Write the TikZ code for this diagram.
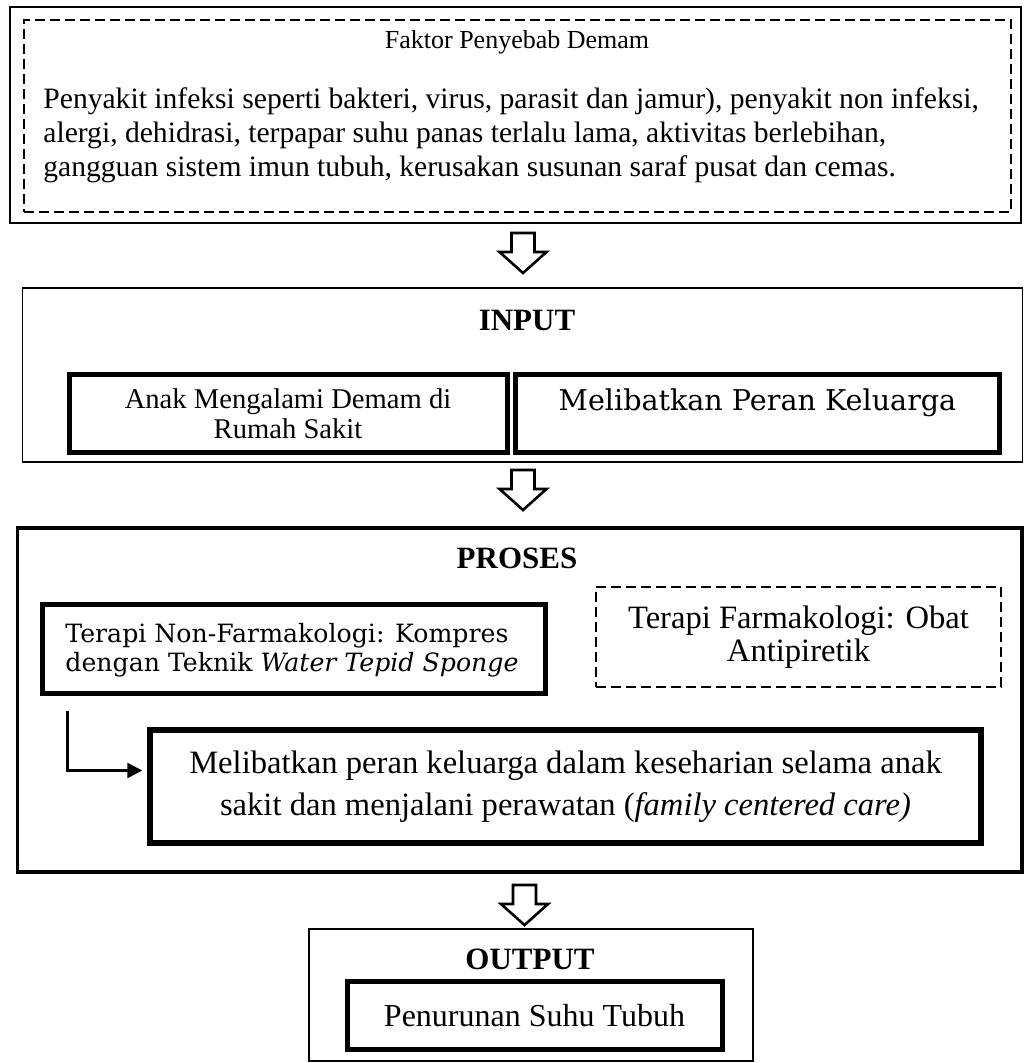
\documentclass[tikz,border=0pt]{standalone}
\usepackage{fontspec}
\setmainfont{Liberation Serif}
\newfontfamily\lebar{DejaVu Serif}
\usetikzlibrary{positioning,arrows.meta}

\begin{document}
\begin{tikzpicture}[
    x=0.5pt, y=-0.5pt,
    kotaktipis/.style={draw, line width=0.6pt, inner sep=0pt},
    kotakputus/.style={draw, line width=0.6pt, dash pattern=on 5pt off 2.5pt, inner sep=0pt},
    kotaktebal/.style={draw, line width=2.5pt, inner sep=0pt},
    judul/.style={inner sep=0pt, font=\bfseries\fontsize{15.5}{18}\selectfont},
    panahblok/.pic={\draw[line width=1.3pt] (-11.5,0) -- (-11.5,19) -- (-23.5,19) -- (0,40) -- (23.5,19) -- (11.5,19) -- (11.5,0) -- cycle;},
    panahsiku/.style={-{Triangle[length=7.5pt,width=7.5pt]}, line width=1.2pt}
    ]
        \useasboundingbox (0,0) rectangle (1024,1063);

        %Faktor penyebab
        \node[kotaktipis, minimum width=505.5pt, minimum height=108pt]
            (faktor) at (515.5,115) {};
        \node[kotakputus, minimum width=493.5pt, minimum height=96pt]
            (faktordalam) at (517.5,116) {};
        \node[inner sep=0pt, font=\fontsize{13}{15}\selectfont]
            (judulfaktor) at (517,42) {Faktor Penyebab Demam};
        \node[inner sep=0pt, anchor=west, align=left, font=\fontsize{14.8}{17}\selectfont]
            (isifaktor) at (43,135) {Penyakit infeksi seperti bakteri, virus, parasit dan jamur), penyakit non infeksi,\\
            alergi, dehidrasi, terpapar suhu panas terlalu lama, aktivitas berlebihan,\\
            gangguan sistem imun tubuh, kerusakan susunan saraf pusat dan cemas.};

        \pic at (523,233) {panahblok};

        %Input
        \node[kotaktipis, minimum width=499.7pt, minimum height=87pt]
            (input) at (522.4,375) {};
        \node[judul] (judulinput) at (527,320) {INPUT};
        \node[kotaktebal, minimum width=219pt, minimum height=38.5pt, align=center,
              font=\fontsize{14.3}{15}\selectfont]
            (anak) at (288,413.5) {Anak Mengalami Demam di\\Rumah Sakit};
        \node[kotaktebal, minimum width=242pt, minimum height=38.5pt]
            (peran) at (757,413.5) {};
        \node[inner sep=0pt, font=\lebar\fontsize{14.3}{17}\selectfont]
            (perantulisan) at (757.5,403) {Melibatkan Peran Keluarga};

        \pic at (523,470) {panahblok};

        %Proses
        \node[draw, line width=1.75pt, inner sep=0pt, minimum width=502.3pt, minimum height=172pt]
            (proses) at (519.8,700) {};
        \node[judul] (judulproses) at (517,558) {PROSES};
        \node[kotaktebal, minimum width=251.3pt, minimum height=44.3pt]
            (nonfarmako) at (293.8,648.8) {};
        \node[inner sep=0pt, anchor=west, align=left, font=\lebar\fontsize{12.6}{14.5}\selectfont]
            (nonfarmakotulisan) at (65,650) {Terapi Non-Farmakologi: Kompres\\dengan Teknik \textit{Water Tepid Sponge}};
        \node[kotakputus, minimum width=202.5pt, minimum height=50pt, align=center,
              font=\fontsize{16.3}{16.5}\selectfont]
            (farmako) at (798.5,637) {Terapi Farmakologi: Obat\\Antipiretik};
        \node[kotaktebal, line width=2.75pt, minimum width=415.5pt, minimum height=56.5pt, align=center,
              font=\fontsize{16.3}{21}\selectfont]
            (keluarga) at (565.5,786.5) {Melibatkan peran keluarga dalam keseharian selama anak\\
            sakit dan menjalani perawatan (\textit{family centered care)}};

        %Lines
        \draw[panahsiku, shorten >=2.5pt]
            ([xshift=13.75pt, yshift=-7.5pt]nonfarmako.south west) |- ([yshift=8pt]keluarga.west);

        \pic at (524.5,885) {panahblok};

        %Output
        \node[kotaktipis, minimum width=222pt, minimum height=66pt]
            (output) at (531,995) {};
        \node[judul] (juduloutput) at (530,959) {OUTPUT};
        \node[kotaktebal, minimum width=187.5pt, minimum height=33.8pt,
              font=\fontsize{16}{18}\selectfont]
            (turun) at (534.5,1015.3) {Penurunan Suhu Tubuh};
\end{tikzpicture}
\end{document}
